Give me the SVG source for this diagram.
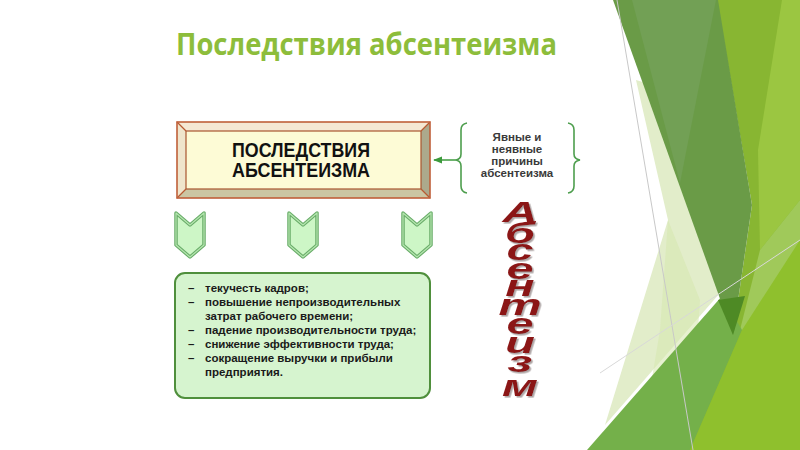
<svg xmlns="http://www.w3.org/2000/svg" width="800" height="450" viewBox="0 0 800 450">
<defs>
<style>
.title{font-family:"Open Sans","DejaVu Sans",sans-serif;font-weight:bold;font-size:30px;fill:#8dbd3b}
.cap{font-family:"Liberation Sans",Arial,sans-serif;font-weight:bold;font-size:21px;fill:#111}
.note{font-family:"Liberation Sans",Arial,sans-serif;font-weight:bold;font-size:11.5px;fill:#3a3a3a;text-anchor:middle}
.item{font-family:"Liberation Sans",Arial,sans-serif;font-weight:bold;font-size:11.5px;fill:#1a1a1a}
.word{font-family:"Liberation Sans",Arial,sans-serif;font-weight:bold;font-style:italic;font-size:36px;text-anchor:middle}
.chev{fill:#cdf6c6;stroke:#69ad69;stroke-width:3.5;stroke-linejoin:round}
.chevin{fill:none;stroke:#b6e6b0;stroke-width:1.2;stroke-linejoin:round}
.brace{fill:none;stroke:#4e9e4e;stroke-width:1.6}
.edge{stroke:#3c9a3c;stroke-width:1.5;fill:none}
</style>
<marker id="ah" viewBox="0 0 10 10" refX="9" refY="5" markerWidth="6" markerHeight="6" orient="auto-start-reverse">
<path d="M0,1 L10,5 L0,9 z" fill="#3c9a3c"/>
</marker>
<filter id="sh" x="-20%" y="-5%" width="140%" height="110%">
<feDropShadow dx="1.2" dy="2" stdDeviation="0.4" flood-color="#9a9090" flood-opacity="0.8"/>
</filter>
</defs>
<rect width="800" height="450" fill="#fff"/>
<g id="background">
<polygon points="636,80 668,220 605,425 740,270 705,100" fill="#e2edca"/>
<polygon points="668,220 700,300 690,450 640,450 660,330" fill="#d7e8b0" opacity="0.6"/>
<polygon points="717,0 800,0 800,450 680,450 733,335 752,205" fill="#88b632"/>
<polygon points="782,0 800,0 800,200 760,250 758,150" fill="#9bc641"/>
<polygon points="740,330 760,250 800,200 800,240 755,330" fill="#a0c95a"/>
<polygon points="587,450 722,296 742,330 690,450" fill="#74b04a"/>
<polygon points="690,450 742,330 800,240 800,450" fill="#8fc02d"/>
<polygon points="613,0 718,0 752,205 733,335" fill="#6a9b47"/>
<polygon points="632,0 716,0 680,183" fill="#72a055"/>
<polygon points="718,300 745,296 733,335" fill="#4e8a25"/>
<line x1="617" y1="0" x2="693" y2="450" stroke="#c8c8c8" stroke-width="1"/>
<line x1="600" y1="373" x2="800" y2="240" stroke="#d8d8d8" stroke-width="1"/>
</g>
<text class="title" x="176" y="55" textLength="381" lengthAdjust="spacingAndGlyphs">Последствия абсентеизма</text>
<g id="node-main">
<polygon points="177,122 430,122 421,131 186,131" fill="#f5e8d3"/>
<polygon points="177,122 186,131 186,189 177,198" fill="#efe5cc"/>
<polygon points="430,122 430,198 421,189 421,131" fill="#aca98c"/>
<polygon points="177,198 430,198 421,189 186,189" fill="#cbc6a3"/>
<rect x="186" y="131" width="235" height="58" fill="#fdfbd6" stroke="#a9552f" stroke-width="1.2"/>
<g stroke="#b85a32" stroke-width="1.2">
<line x1="177" y1="122" x2="186" y2="131"/><line x1="430" y1="122" x2="421" y2="131"/>
<line x1="177" y1="198" x2="186" y2="189"/><line x1="430" y1="198" x2="421" y2="189"/>
</g>
<rect x="177" y="122" width="253" height="76" fill="none" stroke="#c0603a" stroke-width="1.6"/>
<text class="cap" x="232" y="157" textLength="138" lengthAdjust="spacingAndGlyphs">ПОСЛЕДСТВИЯ</text>
<text class="cap" x="232" y="177" textLength="138" lengthAdjust="spacingAndGlyphs">АБСЕНТЕИЗМА</text>
</g>
<g id="node-causes">
<path class="brace" d="M467,123 Q461,124 461,130 L461,154 Q461,159 456,160 Q461,161 461,166 L461,186 Q461,192 467,193"/>
<path class="brace" d="M568,123 Q574,124 574,130 L574,154 Q574,159 580,160 Q574,161 574,166 L574,186 Q574,192 568,193"/>
<text class="note" x="517" y="141">Явные и</text>
<text class="note" x="517" y="153">неявные</text>
<text class="note" x="517" y="165">причины</text>
<text class="note" x="517" y="177">абсентеизма</text>
</g>
<g id="connectors">
<line class="edge" x1="456" y1="160" x2="434" y2="160" marker-end="url(#ah)"/>
</g>
<g id="node-chevron-1">
<polygon class="chev" points="176,213 190,225 204,213 204,245 190,257 176,245"/>
<polygon class="chevin" points="176,213 190,225 204,213 204,245 190,257 176,245"/>
</g>
<g id="node-chevron-2">
<polygon class="chev" points="289,213 303,225 317,213 317,245 303,257 289,245"/>
<polygon class="chevin" points="289,213 303,225 317,213 317,245 303,257 289,245"/>
</g>
<g id="node-chevron-3">
<polygon class="chev" points="403,213 417,225 431,213 431,245 417,257 403,245"/>
<polygon class="chevin" points="403,213 417,225 431,213 431,245 417,257 403,245"/>
</g>
<g id="node-list">
<rect x="175" y="273" width="255" height="125" rx="10" fill="#d6f4cf" stroke="#4f8f3c" stroke-width="2"/>
<g class="item">
<text x="188" y="292">–</text><text x="205" y="292">текучесть кадров;</text>
<text x="188" y="306">–</text><text x="205" y="306">повышение непроизводительных</text>
<text x="205" y="320">затрат рабочего времени;</text>
<text x="188" y="334">–</text><text x="205" y="334">падение производительности труда;</text>
<text x="188" y="348">–</text><text x="205" y="348">снижение эффективности труда;</text>
<text x="188" y="362">–</text><text x="205" y="362">сокращение выручки и прибыли</text>
<text x="205" y="376">предприятия.</text>
</g>
</g>
<g id="node-word" transform="translate(520,0) scale(1.35,0.8)">
<text class="word" fill="#8b1616" filter="url(#sh)"><tspan x="0" y="277.5">А</tspan><tspan x="0" y="303.75">б</tspan><tspan x="0" y="325">с</tspan><tspan x="0" y="348.75">е</tspan><tspan x="0" y="370">н</tspan><tspan x="0" y="393.75">т</tspan><tspan x="0" y="417.5">е</tspan><tspan x="0" y="441.25">и</tspan><tspan x="0" y="465">з</tspan><tspan x="0" y="495">м</tspan></text>
</g>
</svg>
